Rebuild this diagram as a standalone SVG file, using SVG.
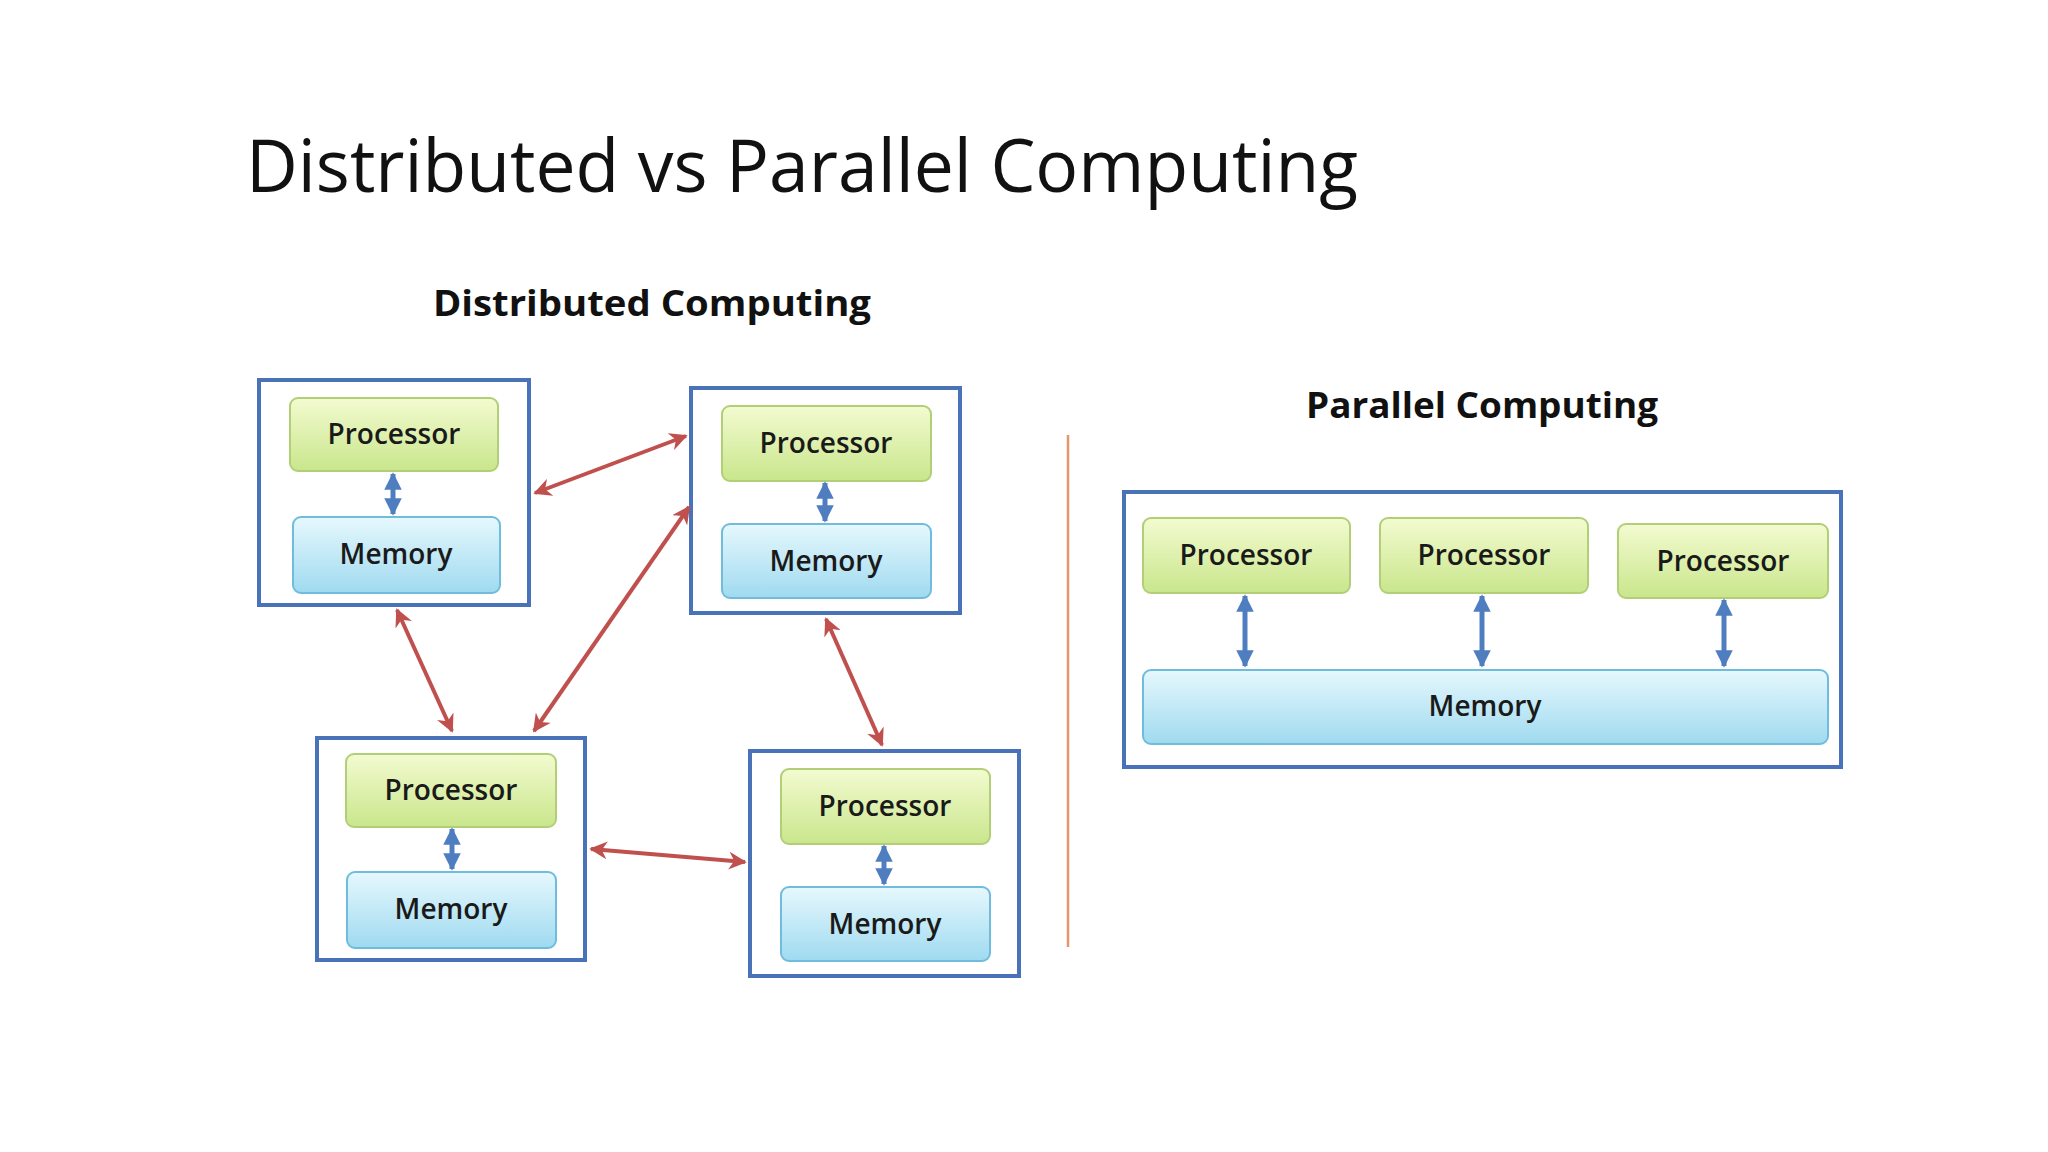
<svg xmlns="http://www.w3.org/2000/svg" width="2048" height="1152" viewBox="0 0 2048 1152">
<defs>
<linearGradient id="gp" x1="0" y1="0" x2="0" y2="1"><stop offset="0" stop-color="#f3fbd0"/><stop offset="1" stop-color="#c9e68c"/></linearGradient>
<linearGradient id="gm" x1="0" y1="0" x2="0" y2="1"><stop offset="0" stop-color="#e6f8fd"/><stop offset="1" stop-color="#9fdaf0"/></linearGradient>
<marker id="ra" viewBox="0 0 10 10" refX="9" refY="5" markerWidth="4.5" markerHeight="4.5" orient="auto-start-reverse" markerUnits="strokeWidth"><path d="M0,0 L10,5 L0,10 L3,5 z" fill="#c0504d"/></marker>
<marker id="ba" viewBox="0 0 10 10" refX="9" refY="5" markerWidth="3.5" markerHeight="4" orient="auto-start-reverse" markerUnits="strokeWidth"><path d="M0,0 L10,5 L0,10 z" fill="#4f7ec0"/></marker>
</defs>
<style>
.box{fill:#fff;stroke:#4a72b8;stroke-width:4}
.p{fill:url(#gp);stroke:#b2cf78;stroke-width:2}
.m{fill:url(#gm);stroke:#6fbcdc;stroke-width:2}
.t{font-family:"Open Sans","Liberation Sans",sans-serif;font-size:28px;font-weight:600;fill:#1a1a1a;text-anchor:middle}
.h{font-family:"Open Sans","Liberation Sans",sans-serif;font-size:36px;font-weight:700;fill:#111;text-anchor:middle}
.r{stroke:#c0504d;stroke-width:4;fill:none;marker-start:url(#ra);marker-end:url(#ra)}
.b{stroke:#4f7ec0;stroke-width:5;fill:none;marker-start:url(#ba);marker-end:url(#ba)}
</style>
<rect width="2048" height="1152" fill="#fff"/>
<text x="246" y="192" font-family="Open Sans,Liberation Sans,sans-serif" font-size="74" fill="#111" textLength="1112" lengthAdjust="spacingAndGlyphs">Distributed vs Parallel Computing</text>
<text class="h" x="652" y="316" textLength="438" lengthAdjust="spacingAndGlyphs">Distributed Computing</text>
<text class="h" x="1482" y="418" textLength="352" lengthAdjust="spacingAndGlyphs">Parallel Computing</text>
<line x1="1068" y1="435" x2="1068" y2="947" stroke="#e8956a" stroke-width="2.5"/>
<g id="nodeA"><rect class="box" x="259" y="380" width="270" height="225"/>
<rect class="p" x="290" y="398" width="208" height="73" rx="8"/><text class="t" x="394" y="444">Processor</text>
<rect class="m" x="293" y="517" width="207" height="76" rx="8"/><text class="t" x="396" y="564">Memory</text></g>
<g id="nodeB"><rect class="box" x="691" y="388" width="269" height="225"/>
<rect class="p" x="722" y="406" width="209" height="75" rx="8"/><text class="t" x="826" y="453">Processor</text>
<rect class="m" x="722" y="524" width="209" height="74" rx="8"/><text class="t" x="826" y="571">Memory</text></g>
<g id="nodeC"><rect class="box" x="317" y="738" width="268" height="222"/>
<rect class="p" x="346" y="754" width="210" height="73" rx="8"/><text class="t" x="451" y="800">Processor</text>
<rect class="m" x="347" y="872" width="209" height="76" rx="8"/><text class="t" x="451" y="919">Memory</text></g>
<g id="nodeD"><rect class="box" x="750" y="751" width="269" height="225"/>
<rect class="p" x="781" y="769" width="209" height="75" rx="8"/><text class="t" x="885" y="816">Processor</text>
<rect class="m" x="781" y="887" width="209" height="74" rx="8"/><text class="t" x="885" y="934">Memory</text></g>
<g id="parallel"><rect class="box" x="1124" y="492" width="717" height="275"/>
<rect class="p" x="1143" y="518" width="207" height="75" rx="8"/><text class="t" x="1246" y="565">Processor</text>
<rect class="p" x="1380" y="518" width="208" height="75" rx="8"/><text class="t" x="1484" y="565">Processor</text>
<rect class="p" x="1618" y="524" width="210" height="74" rx="8"/><text class="t" x="1723" y="571">Processor</text>
<rect class="m" x="1143" y="670" width="685" height="74" rx="8"/><text class="t" x="1485" y="716">Memory</text></g>
<g id="connectors">
<line class="b" x1="393" y1="474" x2="393" y2="514"/>
<line class="b" x1="825" y1="483" x2="825" y2="521"/>
<line class="b" x1="452" y1="829" x2="452" y2="869"/>
<line class="b" x1="884" y1="846" x2="884" y2="884"/>
<line class="b" x1="1245" y1="596" x2="1245" y2="666"/>
<line class="b" x1="1482" y1="596" x2="1482" y2="666"/>
<line class="b" x1="1724" y1="600" x2="1724" y2="666"/>
<line class="r" x1="535" y1="493" x2="686" y2="436"/>
<line class="r" x1="397" y1="610" x2="452" y2="731"/>
<line class="r" x1="534" y1="731" x2="689" y2="507"/>
<line class="r" x1="826" y1="619" x2="882" y2="745"/>
<line class="r" x1="591" y1="849" x2="745" y2="862"/>
</g>
</svg>
